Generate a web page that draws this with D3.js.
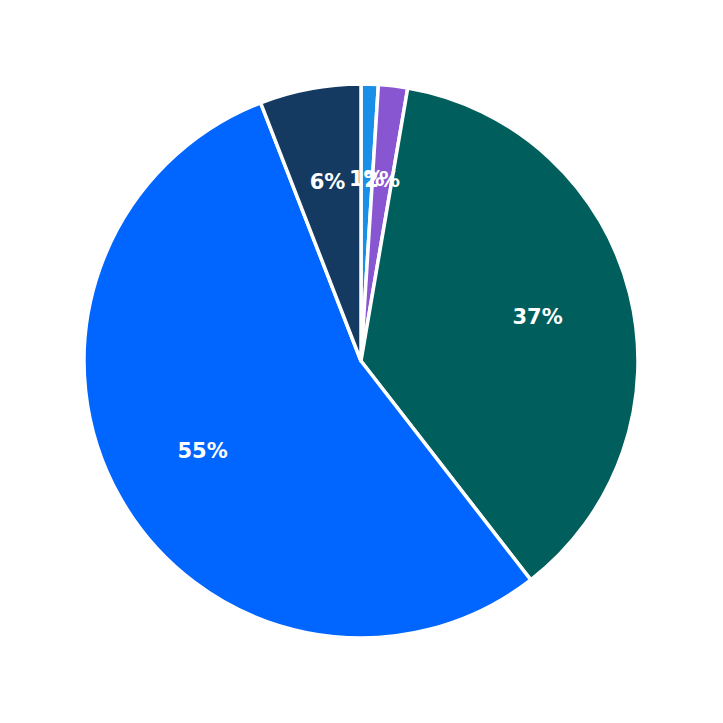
<!DOCTYPE html>
<html><head><meta charset="utf-8">
<script src="https://cdn.jsdelivr.net/npm/d3@7"></script>
<style>body{margin:0;background:#fff}</style></head>
<body><svg id="c" width="723" height="723"></svg>
<script>
const categories = ["A","B","C","D","E"];
const values = [1.0, 1.7, 36.8, 54.6, 5.9];
const labels = ["1%","2%","37%","55%","6%"];
const colors = ["#1a8fe8","#8856d0","#005e5c","#0066ff","#143a62"];

const svg = d3.select("#c");
const cx = 361, cy = 361, R = 277, LR = 182;
const g = svg.append("g").attr("transform", `translate(${cx},${cy})`);
const pie = d3.pie().sort(null).value(d => d.v);
const data = pie(categories.map((c,i)=>({c, v: values[i], l: labels[i], col: colors[i]})));
const arc = d3.arc().innerRadius(0).outerRadius(R);
const larc = d3.arc().innerRadius(LR).outerRadius(LR);
g.selectAll("path").data(data).enter().append("path")
  .attr("d", arc).attr("fill", d => d.data.col)
  .attr("stroke", "#fff").attr("stroke-width", 3.5).attr("stroke-linejoin","round");
g.selectAll("text").data(data).enter().append("text")
  .attr("transform", d => `translate(${larc.centroid(d)})`)
  .attr("text-anchor","middle").attr("dominant-baseline","central")
  .attr("fill","#fff").attr("font-family","DejaVu Sans").attr("font-weight","bold")
  .attr("font-size", 21).text(d => d.data.l);
</script></body></html>
